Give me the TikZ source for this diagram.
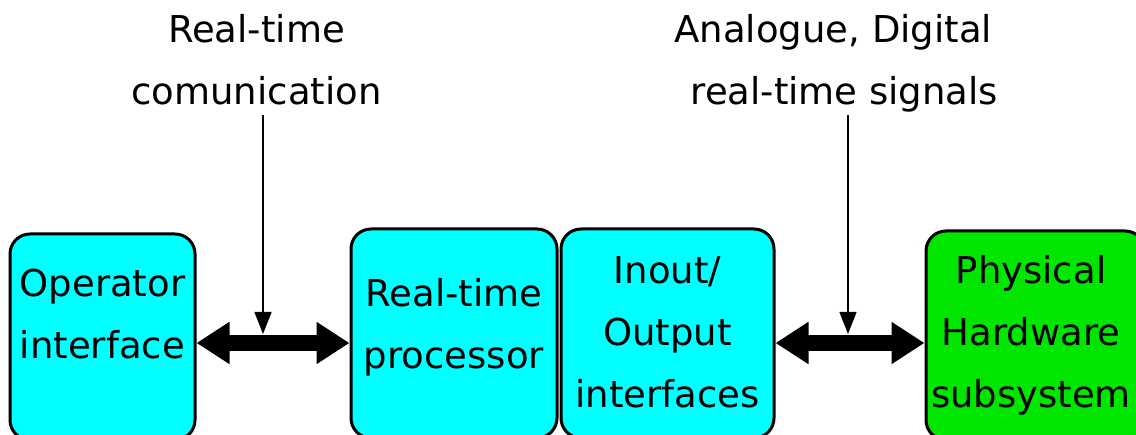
\documentclass[tikz,border=0pt]{standalone}
\usepackage{fontspec}
\setmainfont{DejaVu Sans}
\usetikzlibrary{arrows.meta}
\definecolor{boxcyan}{RGB}{0,255,255}
\definecolor{boxgreen}{RGB}{0,230,0}
\tikzset{
  block/.style={draw=black, line width=3pt, rounded corners=20pt, inner sep=0pt},
  blocktext/.style={align=center, inner sep=0pt, font=\fontsize{37}{62}\selectfont},
  bus/.style={line width=16pt, {Triangle[length=33pt,width=40pt]}-{Triangle[length=33pt,width=40pt]}},
  tap/.style={line width=1.3pt, -{Triangle[length=22pt,width=17pt]}}
}
\begin{document}
\begin{tikzpicture}[x=1pt,y=-1pt]
\useasboundingbox (0,0) rectangle (1136,435);

% blocks
\node[block, fill=boxcyan, minimum width=185pt, minimum height=206pt] (op) at (102.5,337) {};
\node[block, fill=boxcyan, minimum width=206pt, minimum height=209pt] (proc) at (454,333.5) {};
\node[block, fill=boxcyan, minimum width=213pt, minimum height=209pt] (io) at (667.5,333.5) {};
\node[block, fill=boxgreen, minimum width=219pt, minimum height=209pt] (hw) at (1035.5,335.5) {};

% block captions
\node[blocktext] (optext) at (102.5,315) {\strut Operator\\\strut interface};
\node[blocktext] (proctext) at (454,325.5) {\strut Real-time\\\strut processor};
\node[blocktext] (iotext) at (667.5,333) {\strut Inout/\\\strut Output\\\strut interfaces};
\node[blocktext] (hwtext) at (1031,333) {\strut Physical\\\strut Hardware\\\strut subsystem};

% link labels
\node[blocktext] (rtcom) at (256.5,61) {\strut Real-time\\\strut comunication};
\node[blocktext] (sig) at (838.8,61) {\strut Analogue, Digital\hspace*{0.3em}\\\hspace*{0.3em}\strut real-time signals};

% bidirectional links
\coordinate (busy) at (0,343);
\draw[bus] (op.east |- busy) -- (proc.west |- busy);
\draw[bus] (io.east |- busy) -- (hw.west |- busy);

% pointers from the labels to the links
\coordinate (tapAtop) at (263,115);
\coordinate (tapAbot) at (263,334);
\coordinate (tapBtop) at (848,115);
\coordinate (tapBbot) at (848,334);
\draw[tap] (tapAtop) -- (tapAbot);
\draw[tap] (tapBtop) -- (tapBbot);
\end{tikzpicture}
\end{document}
